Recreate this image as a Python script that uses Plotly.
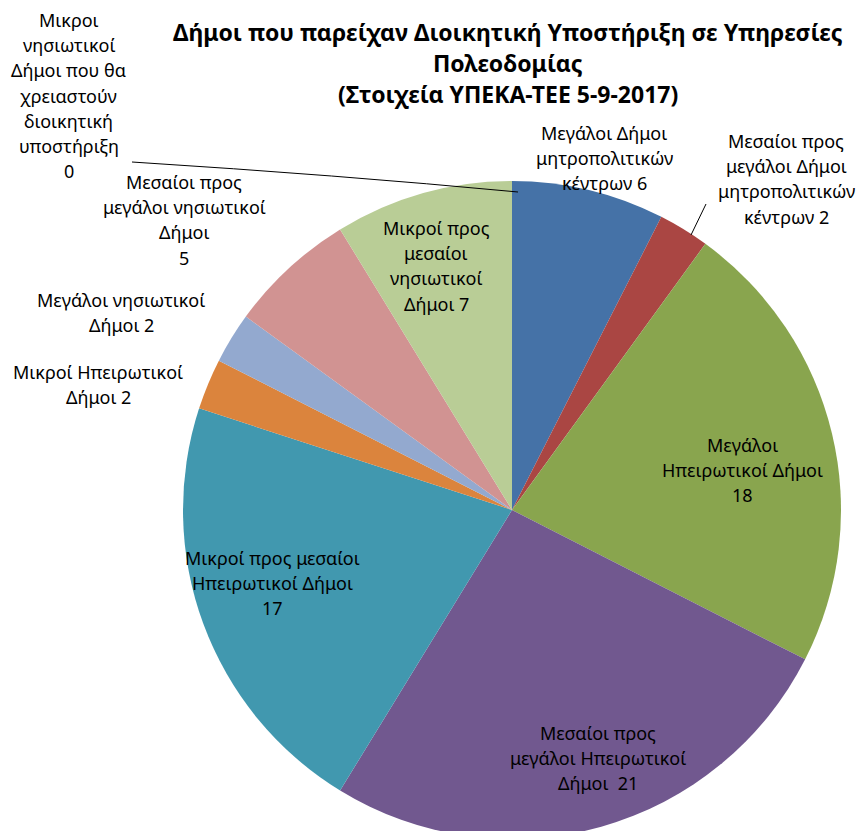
import plotly.graph_objects as go

# ---- data ----
labels = [
    "Μεγάλοι Δήμοι\nμητροπολιτικών\nκέντρων",
    "Μεσαίοι προς\nμεγάλοι Δήμοι\nμητροπολιτικών\nκέντρων",
    "Μεγάλοι\nΗπειρωτικοί Δήμοι",
    "Μεσαίοι προς\nμεγάλοι Ηπειρωτικοί\nΔήμοι ",
    "Μικροί προς μεσαίοι\nΗπειρωτικοί Δήμοι",
    "Μικροί Ηπειρωτικοί\nΔήμοι",
    "Μεγάλοι νησιωτικοί\nΔήμοι",
    "Μεσαίοι προς\nμεγάλοι νησιωτικοί\nΔήμοι",
    "Μικροί προς\nμεσαίοι\nνησιωτικοί\nΔήμοι",
    "Μικροι\nνησιωτικοί\nΔήμοι που θα\nχρειαστούν\nδιοικητική\nυποστήριξη",
]
values = [6, 2, 18, 21, 17, 2, 2, 5, 7, 0]
# value appended on the same line (True) or on a new line (False)
value_same_line = [True, True, False, True, False, True, True, False, True, False]

title_lines = [
    "Δήμοι που παρείχαν Διοικητική Υποστήριξη σε Υπηρεσίες",
    "Πολεοδομίας",
    "(Στοιχεία ΥΠΕΚΑ-ΤΕΕ 5-9-2017)",
]

# ---- styling / layout ----
colors = ["#4572A7", "#AA4643", "#89A54E", "#71588F", "#4198AF",
          "#DB843D", "#93A9CF", "#D19392", "#B9CD96", "#A99BBD"]
W, H = 864, 831
cx, cy, r = 504, 503, 330
# label centre (x) and first-line (y) in pixels
label_pos = [(604, 133), (786, 141), (742, 445), (598, 733), (272, 558),
             (98, 372), (121, 300), (184, 182), (436, 228), (69, 20)]
line_gap = 25.2
dx, dy = -8, -8   # rendering offset correction
FONT = "Noto Sans"

def px(x):
    return x / W

def py(y):
    return 1 - y / H

fig = go.Figure(go.Pie(
    labels=[l.replace("\n", " ") for l in labels],
    values=values,
    sort=False,
    direction="clockwise",
    rotation=0,
    marker=dict(colors=colors, line=dict(width=0)),
    textinfo="none",
    hoverinfo="label+value",
    showlegend=False,
    domain=dict(x=[px(cx - r), px(cx + r)], y=[max(0, py(cy + r)), py(cy - r)]),
))

annotations = []
for lab, val, same, (lx, ly) in zip(labels, values, value_same_line, label_pos):
    lines = lab.split("\n")
    if same:
        lines[-1] = lines[-1] + " " + str(val)
    else:
        lines.append(str(val))
    for i, t in enumerate(lines):
        annotations.append(dict(
            x=px(lx + dx), y=py(ly + dy + i * line_gap), xref="paper", yref="paper",
            text=t, showarrow=False, xanchor="center", yanchor="middle",
            font=dict(family=FONT, size=18, color="#000000"),
        ))

for i, t in enumerate(title_lines):
    annotations.append(dict(
        x=px(508 + dx), y=py(32 + dy + i * 31), xref="paper", yref="paper",
        text="<b>" + t + "</b>", showarrow=False, xanchor="center", yanchor="middle",
        font=dict(family=FONT, size=23, color="#000000"),
    ))

shapes = [
    dict(type="path", xref="paper", yref="paper",
         path=f"M {px(124)},{py(154)} Q {px(330)},{py(167)} {px(510)},{py(184)}",
         line=dict(color="#000000", width=1)),
    dict(type="line", xref="paper", yref="paper",
         x0=px(683), y0=py(227), x1=px(698), y1=py(196),
         line=dict(color="#000000", width=1)),
]

fig.update_layout(
    width=W, height=H,
    margin=dict(l=0, r=0, t=0, b=0),
    paper_bgcolor="#FFFFFF",
    plot_bgcolor="#FFFFFF",
    annotations=annotations,
    shapes=shapes,
)

fig.write_html("out.html")
